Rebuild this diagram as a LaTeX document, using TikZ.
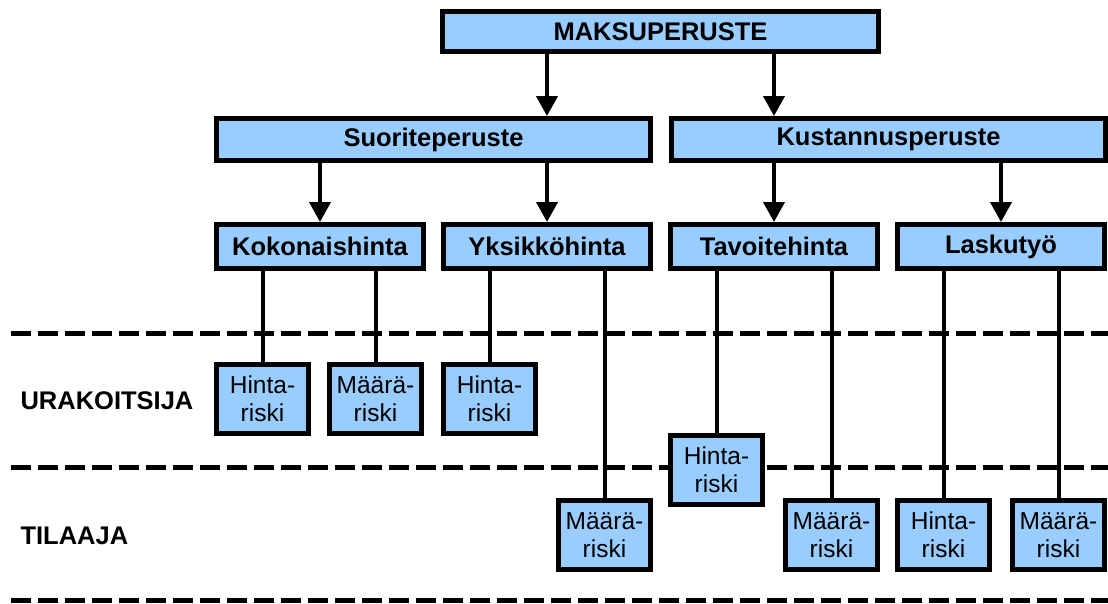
\documentclass[tikz,border=0pt]{standalone}
\usepackage{fontspec}
\setmainfont{Liberation Sans}
\usepackage{xcolor}
\usetikzlibrary{positioning,arrows.meta}
\definecolor{boxblue}{HTML}{99CCFF}

\begin{document}
\begin{tikzpicture}[x=1pt, y=-1pt,
  box/.style={draw, line width=5pt, fill=boxblue, rectangle, inner sep=0pt, font=\fontsize{25.5}{29}\selectfont\bfseries},
  bigbox/.style={box, minimum width=434pt, minimum height=42pt},
  midbox/.style={box, minimum width=207pt, minimum height=44pt},
  risk/.style={draw, line width=5pt, fill=boxblue, rectangle, inner sep=0pt, minimum width=92pt, minimum height=69pt, align=center, font=\fontsize{24.5}{28}\selectfont},
  link/.style={line width=4pt},
  arr/.style={line width=4pt, -{Triangle[width=21pt,length=20pt]}},
  sep/.style={line width=5pt, dash pattern=on 20pt off 7pt},
  party/.style={anchor=west, font=\fontsize{25.5}{29}\selectfont\bfseries}]
  \useasboundingbox (0,0) rectangle (1108,603);

  % separators between the parties
  \draw[sep] (11,333) -- (1108,333);
  \draw[sep] (11,467) -- (1108,467);
  \draw[sep] (11,600) -- (1108,600);

  \node[party] (URA) at (17,401) {URAKOITSIJA};
  \node[party] (TIL) at (17,536) {TILAAJA};

  \node[box, minimum width=436pt, minimum height=40pt] (MP) at (660.5,31.5) {MAKSUPERUSTE};
  \node[bigbox] (SP) at (433.5,139.5) {Suoriteperuste};
  \node[bigbox, right=16pt of SP] (KP) {Kustannusperuste};

  \node[midbox, below right=59pt and 0pt of SP.south west] (KH) {Kokonaishinta};
  \node[midbox, right=15pt of KH] (YH) {Yksikköhinta};
  \node[midbox, right=15pt of YH] (TH) {Tavoitehinta};
  \node[midbox, right=15pt of TH] (LT) {Laskutyö};

  \node[risk, below right=91pt and 0pt of KH.south west] (KH-H) {Hinta-\\riski};
  \node[risk, right=16pt of KH-H] (KH-M) {Määrä-\\riski};
  \node[risk, below right=91pt and 0pt of YH.south west] (YH-H) {Hinta-\\riski};
  \node[risk, below left=227pt and 0pt of YH.south east] (YH-M) {Määrä-\\riski};
  \node[risk, below right=162pt and 0pt of TH.south west] (TH-H) {Hinta-\\riski};
  \node[risk, below left=227pt and 0pt of TH.south east] (TH-M) {Määrä-\\riski};
  \node[risk, below right=227pt and 0pt of LT.south west] (LT-H) {Hinta-\\riski};
  \node[risk, below left=227pt and 0pt of LT.south east] (LT-M) {Määrä-\\riski};

  \draw[arr] (MP.south -| YH) -- (SP.north -| YH);
  \draw[arr] (MP.south -| TH) -- (KP.north -| TH);
  \draw[arr] (SP.south -| KH) -- (KH.north);
  \draw[arr] (SP.south -| YH) -- (YH.north);
  \draw[arr] (KP.south -| TH) -- (TH.north);
  \draw[arr] (KP.south -| LT) -- (LT.north);

  \foreach \up/\kid in {KH/KH-H, KH/KH-M, YH/YH-H, YH/YH-M, TH/TH-H, TH/TH-M, LT/LT-H, LT/LT-M}
    \draw[link] (\up.south -| \kid.north) -- (\kid.north);
\end{tikzpicture}
\end{document}
